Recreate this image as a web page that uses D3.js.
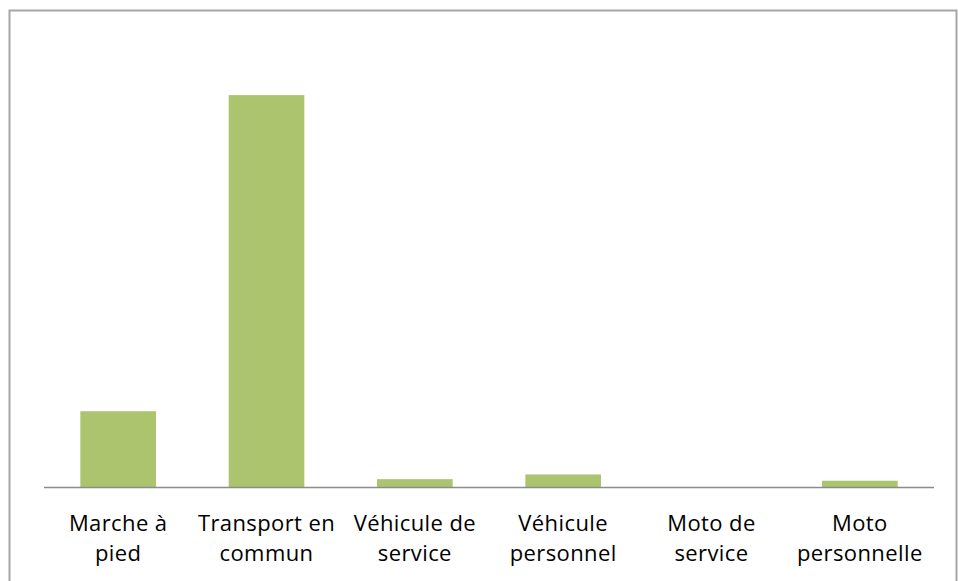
<!DOCTYPE html>
<html>
<head>
<meta charset="utf-8">
<script src="https://cdnjs.cloudflare.com/ajax/libs/d3/7.8.5/d3.min.js"></script>
<style>
  body { margin: 0; background: #fff; }
</style>
</head>
<body>
<div id="chart"></div>
<script>
// Categories (two-line labels) and values
const categories = ["Marche à pied", "Transport en commun", "Véhicule de service",
                    "Véhicule personnel", "Moto de service", "Moto personnelle"];
const labelLines = [["Marche à", "pied"], ["Transport en", "commun"], ["Véhicule de", "service"],
                    ["Véhicule", "personnel"], ["Moto de", "service"], ["Moto", "personnelle"]];
const values = [14.5, 75, 1.5, 2.4, 0, 1.2];

const W = 958, H = 581;
const margin = { top: 69, right: 24, bottom: 94, left: 44 };
const width = W - margin.left - margin.right,
      height = H - margin.top - margin.bottom;

const svgRoot = d3.select("#chart").append("svg")
    .attr("width", W)
    .attr("height", H);

// outer chart border
svgRoot.append("rect")
    .attr("x", 9.5)
    .attr("y", 10.5)
    .attr("width", 947)
    .attr("height", 620)
    .attr("fill", "none")
    .attr("stroke", "#a6a6a6")
    .attr("stroke-width", 2);

const svg = svgRoot.append("g")
    .attr("transform", `translate(${margin.left},${margin.top})`);

const x = d3.scaleBand()
    .domain(categories)
    .range([0, width])
    .paddingInner(0.49)
    .paddingOuter(0.245);

const y = d3.scaleLinear()
    .domain([0, 80])
    .range([height, 0]);

// bars
svg.selectAll(".bar")
    .data(values)
    .enter()
    .append("rect")
    .attr("x", (d, i) => x(categories[i]))
    .attr("y", d => y(d))
    .attr("width", x.bandwidth())
    .attr("height", d => height - y(d))
    .attr("fill", "#abc46d");

// baseline
svg.append("line")
    .attr("x1", 0)
    .attr("x2", width)
    .attr("y1", height + 0.5)
    .attr("y2", height + 0.5)
    .attr("stroke", "#8c8c8c")
    .attr("stroke-width", 1.5);

// category labels
const labels = svg.selectAll(".lab")
    .data(categories)
    .enter()
    .append("text")
    .attr("text-anchor", "middle")
    .attr("font-family", "Open Sans, sans-serif")
    .attr("font-size", "22px")
    .attr("letter-spacing", "0.4px")
    .attr("fill", "#000");

labels.each(function(c, i) {
    const t = d3.select(this);
    labelLines[i].forEach((line, k) => {
        t.append("tspan")
            .attr("x", x(c) + x.bandwidth() / 2)
            .attr("y", height + 44 + k * 30)
            .text(line);
    });
});
</script>
</body>
</html>
